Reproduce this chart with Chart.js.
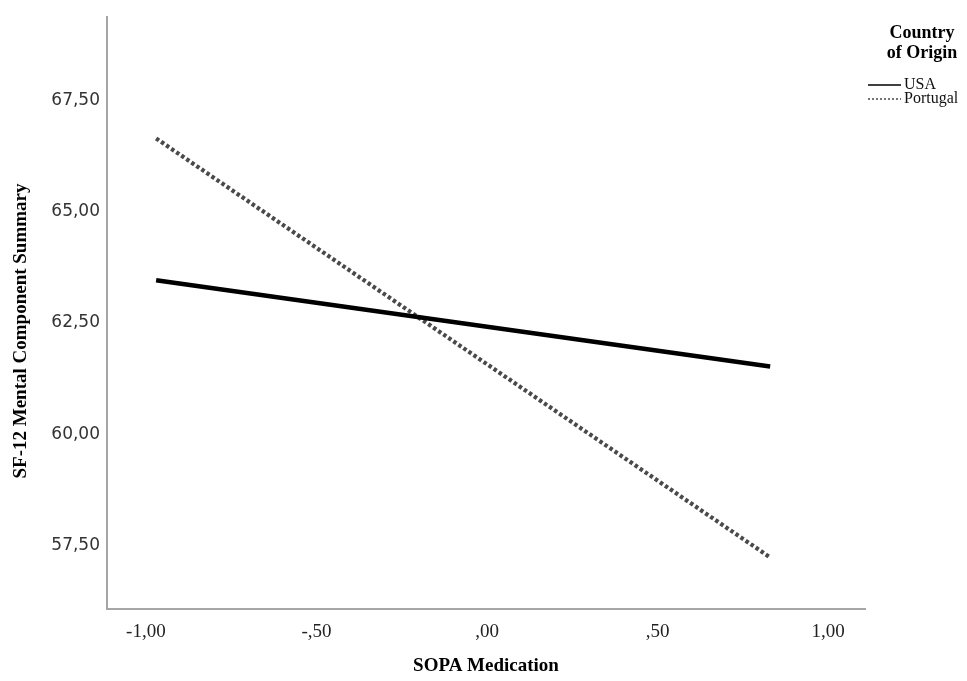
<!DOCTYPE html>
<html>
<head>
<meta charset="utf-8">
<script src="https://cdn.jsdelivr.net/npm/chart.js@4"></script>
<style>
  html, body { margin: 0; padding: 0; background: #fff; }
  #wrap { width: 967px; height: 681px; }
</style>
</head>
<body>
<div id="wrap"><canvas id="chart" width="967" height="681"></canvas></div>
<script>
// data
const sopaValues = [-0.97, 0.83];
const usaValues = [63.46, 61.52];
const portugalValues = [66.65, 57.23];
const seriesNames = ['USA', 'Portugal'];
const xTickValues = [-1, -0.5, 0, 0.5, 1];
const xTickLabels = ['-1,00', '-,50', ',00', ',50', '1,00'];
const yTickValues = [57.5, 60, 62.5, 65, 67.5];
const yTickLabels = ['57,50', '60,00', '62,50', '65,00', '67,50'];

const toPoints = (vals) => vals.map((v, i) => ({ x: sopaValues[i], y: v }));

// y title + legend drawn by hand so they sit like the SPSS output
const extras = {
  id: 'extras',
  afterDraw(chart) {
    const ctx = chart.ctx;
    ctx.save();
    // y axis title
    ctx.translate(21, 331);
    ctx.rotate(-Math.PI / 2);
    ctx.fillStyle = '#000';
    ctx.font = 'bold 19px "Liberation Serif"';
    ctx.textAlign = 'center';
    ctx.textBaseline = 'middle';
    ctx.fillText('SF-12 Mental Component Summary', 0, 0);
    ctx.restore();

    // legend
    ctx.save();
    ctx.fillStyle = '#000';
    ctx.textAlign = 'center';
    ctx.textBaseline = 'middle';
    ctx.font = 'bold 18px "Liberation Serif"';
    ctx.fillText('Country', 922, 33);
    ctx.fillText('of Origin', 922, 53);
    ctx.textAlign = 'left';
    ctx.font = '16px "Liberation Serif"';
    chart.data.datasets.forEach((ds, i) => {
      const y = 85 + i * 14;
      ctx.strokeStyle = ds.borderColor;
      ctx.lineWidth = 1.5;
      ctx.setLineDash(ds.borderDash.length ? [2, 2] : []);
      ctx.beginPath();
      ctx.moveTo(868, y);
      ctx.lineTo(901, y);
      ctx.stroke();
      ctx.fillStyle = '#111';
      ctx.fillText(ds.label, 904, y);
    });
    ctx.restore();
  }
};

new Chart(document.getElementById('chart'), {
  type: 'line',
  data: {
    datasets: [
      {
        label: seriesNames[0],
        data: toPoints(usaValues),
        borderColor: '#000',
        borderWidth: 4.5,
        borderDash: [],
        pointRadius: 0
      },
      {
        label: seriesNames[1],
        data: toPoints(portugalValues),
        borderColor: '#4a4a4a',
        borderWidth: 4.2,
        borderDash: [3.5, 2.6],
        pointRadius: 0
      }
    ]
  },
  options: {
    responsive: false,
    animation: false,
    layout: { padding: { top: 13, right: 102, left: 0, bottom: 0 } },
    plugins: { legend: { display: false }, tooltip: { enabled: false } },
    scales: {
      x: {
        type: 'linear',
        min: -1.114,
        max: 1.108,
        afterBuildTicks: (s) => { s.ticks = xTickValues.map(v => ({ value: v })); },
        afterFit: (s) => { s.height = 72; },
        ticks: {
          callback: (v) => xTickLabels[xTickValues.indexOf(v)],
          color: '#222',
          font: { family: 'Liberation Serif', size: 19 },
          padding: 12,
          maxRotation: 0
        },
        grid: { drawOnChartArea: false, drawTicks: false },
        border: { color: '#a6a6a6', width: 2 },
        title: {
          display: true,
          text: 'SOPA Medication',
          color: '#000',
          font: { family: 'Liberation Serif', size: 19, weight: 'bold' },
          padding: { top: 12 }
        }
      },
      y: {
        type: 'linear',
        min: 56.07,
        max: 69.375,
        afterBuildTicks: (s) => { s.ticks = yTickValues.map(v => ({ value: v })); },
        afterFit: (s) => { s.width = 107; },
        ticks: {
          callback: (v) => yTickLabels[yTickValues.indexOf(v)],
          color: '#333',
          font: { family: 'DejaVu Sans', size: 17 },
          padding: 7
        },
        grid: { drawOnChartArea: false, drawTicks: false },
        border: { color: '#a6a6a6', width: 2 }
      }
    }
  },
  plugins: [extras]
});
</script>
</body>
</html>
